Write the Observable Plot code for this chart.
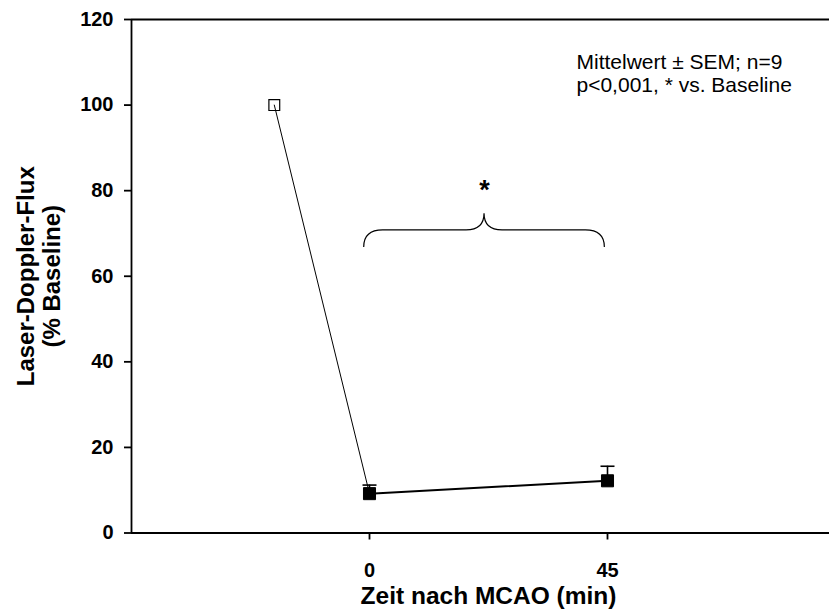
<!DOCTYPE html>
<html><head><meta charset="utf-8">
<script src="https://cdn.jsdelivr.net/npm/d3@7"></script>
<script src="https://cdn.jsdelivr.net/npm/@observablehq/plot@0.6"></script>
<style>
html,body{margin:0;padding:0;background:#fff;overflow:hidden;}
#chart svg{display:block;}
#chart [aria-label$="tick"] path, #chart [aria-label$="tick"] line{stroke-width:1.8px;}
#chart svg g[aria-label*="axis"] text{font-size:20px !important;font-weight:bold !important;}
</style></head><body><div id="chart"></div>
<script>
// data
const timePoints = [0, 45];
const meanFlux = [9.2, 12.2];
const semFlux = [2.0, 3.4];
const baselineTime = [-18];
const baselineFlux = [100];
// axes
const xTicks = [0, 45];
const yTicks = [0, 20, 40, 60, 80, 100, 120];
const xDomain = [-45, 90];
const yDomain = [0, 120];
// significance brace (data coords)
const braceSpan = [-1, 44.5];
const braceLevels = [66.7, 70.7, 74.6];
const starLevel = [80];
// texts
const annotationLines = ["Mittelwert ± SEM; n=9", "p<0,001, * vs. Baseline"];
const xLabel = "Zeit nach MCAO (min)";
const yLabelLines = ["Laser-Doppler-Flux", "(% Baseline)"];

const post = timePoints.map((t, i) => ({t, v: meanFlux[i], s: semFlux[i]}));
const baseline = baselineTime.map((t, i) => ({t, v: baselineFlux[i]}));
const connector = [baseline[0], post[0]];

const capSymbol = {
  draw(ctx, size) {
    const w = Math.sqrt(size / Math.PI);
    ctx.moveTo(-w, 0);
    ctx.lineTo(w, 0);
  }
};

function braceMark(index, scales) {
  const {x, y} = scales;
  const x0 = x(braceSpan[0]), x1 = x(braceSpan[1]), xm = (x0 + x1) / 2;
  const yb = y(braceLevels[0]), yh = y(braceLevels[1]), yt = y(braceLevels[2]);
  const r = 19, rt = 18;
  const d = `M${x0},${yb}Q${x0},${yh} ${x0 + r},${yh}L${xm - rt},${yh}Q${xm},${yh} ${xm},${yt}Q${xm},${yh} ${xm + rt},${yh}L${x1 - r},${yh}Q${x1},${yh} ${x1},${yb}`;
  const p = document.createElementNS("http://www.w3.org/2000/svg", "path");
  p.setAttribute("d", d);
  p.setAttribute("fill", "none");
  p.setAttribute("stroke", "black");
  p.setAttribute("stroke-width", "1.2");
  return p;
}

const font = "'Liberation Sans', Arial, sans-serif";

const chart = Plot.plot({
  width: 829,
  height: 616,
  marginLeft: 131,
  marginRight: 0,
  marginTop: 19,
  marginBottom: 83.5,
  style: {fontFamily: font, fontSize: "20px", fontWeight: "bold", color: "black", background: "white", overflow: "hidden"},
  x: {domain: xDomain, range: [131, 845], ticks: xTicks, tickSize: 7, tickPadding: 23, label: null, tickFormat: d => String(d)},
  y: {domain: yDomain, ticks: yTicks, tickSize: 7, tickPadding: 11, label: null, tickFormat: d => String(d)},
  marks: [
    Plot.ruleY(yDomain, {stroke: "black", strokeWidth: 1.8}),
    Plot.ruleX([xDomain[0]], {stroke: "black", strokeWidth: 1.8}),
    Plot.line(connector, {x: "t", y: "v", stroke: "black", strokeWidth: 1}),
    Plot.line(post, {x: "t", y: "v", stroke: "black", strokeWidth: 2}),
    Plot.ruleX(post, {x: "t", y1: "v", y2: d => d.v + d.s, stroke: "black", strokeWidth: 1.6}),
    Plot.dot(post, {x: "t", y: d => d.v + d.s, symbol: capSymbol, r: 7, fill: "none", stroke: "black", strokeWidth: 1.6}),
    Plot.dot(post, {x: "t", y: "v", symbol: "square", r: 6.8, fill: "black", stroke: "black", strokeWidth: 1}),
    Plot.dot(baseline, {x: "t", y: "v", symbol: "square", r: 6.1, fill: "none", stroke: "black", strokeWidth: 1.2}),
    braceMark,
    Plot.text(["*"], {x: d3.mean(braceSpan), y: starLevel[0], fontSize: 27, fontWeight: "bold", lineAnchor: "middle", fill: "black"}),
    Plot.text([annotationLines.join("\n")], {frameAnchor: "top-left", dx: 445, dy: 33, lineAnchor: "top", textAnchor: "start", lineHeight: 1.1, fontSize: 21, fontWeight: "normal", fill: "black"}),
    Plot.text([xLabel], {x: d3.mean(xDomain), frameAnchor: "bottom", lineAnchor: "top", dy: 54, fontSize: 24.5, fontWeight: "bold", fill: "black"}),
    Plot.text([yLabelLines.join("\n")], {frameAnchor: "left", rotate: -90, dx: -93, textAnchor: "middle", lineAnchor: "middle", lineHeight: 1.08, fontSize: 24, fontWeight: "bold", fill: "black"})
  ]
});
document.getElementById("chart").appendChild(chart);
</script>
</body></html>
